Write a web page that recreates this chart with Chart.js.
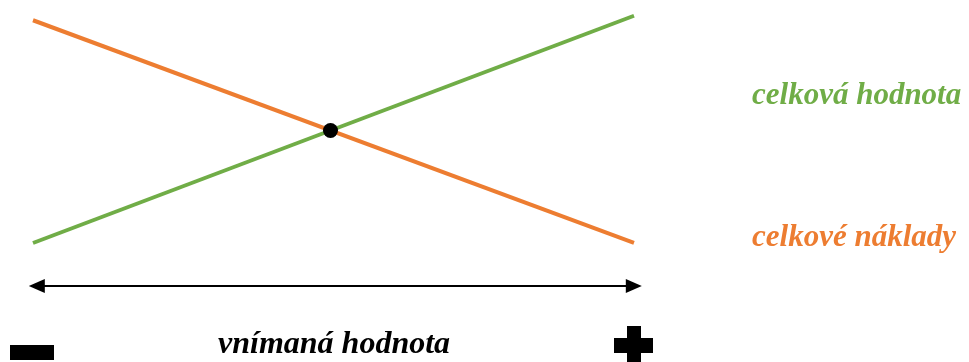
<!DOCTYPE html>
<html lang="cs">
<head>
  <meta charset="UTF-8" />
  <title>Vnímaná hodnota</title>
  <script src="https://cdn.jsdelivr.net/npm/chart.js"></script>
  <style>
    body {
      margin: 0;
      background: #fff;
    }
    #wrap {
      width: 969px;
      height: 362px;
    }
  </style>
</head>
<body>
  <div id="wrap">
    <canvas id="chart" width="969" height="362"></canvas>
  </div>

  <script>
    // data (perceived value on x, amount on y)
    const valueX = [0, 10];
    const totalValue = [0, 10.1];      // celková hodnota
    const totalCosts = [9.9, 0];       // celkové náklady
    const crossPoint = [{ x: 4.95, y: 5.0 }];
    const labels = ['celková hodnota', 'celkové náklady', 'vnímaná hodnota'];

    const green = '#70ad47';
    const orange = '#ed7d31';
    const serif = '"Liberation Serif", "Times New Roman", serif';

    // arrow, signs and labels drawn on top of the chart area
    const extras = {
      id: 'extras',
      afterDatasetsDraw(chart) {
        const ctx = chart.ctx;
        const x = chart.scales.x, y = chart.scales.y;
        const ay = y.getPixelForValue(-1.91);
        const x0 = x.getPixelForValue(-0.07);
        const x1 = x.getPixelForValue(10.13);

        ctx.save();
        ctx.fillStyle = '#000';
        ctx.strokeStyle = '#000';
        ctx.lineWidth = 2;
        ctx.beginPath();
        ctx.moveTo(x0 + 10, ay);
        ctx.lineTo(x1 - 10, ay);
        ctx.stroke();
        // arrow heads
        ctx.beginPath();
        ctx.moveTo(x0, ay);
        ctx.lineTo(x0 + 16, ay - 7);
        ctx.lineTo(x0 + 16, ay + 7);
        ctx.closePath();
        ctx.fill();
        ctx.beginPath();
        ctx.moveTo(x1, ay);
        ctx.lineTo(x1 - 16, ay - 7);
        ctx.lineTo(x1 - 16, ay + 7);
        ctx.closePath();
        ctx.fill();

        // minus and plus
        ctx.fillRect(10, 345, 44, 15);
        ctx.fillRect(614, 338, 39, 15);
        ctx.fillRect(627, 326, 14, 40);

        ctx.textBaseline = 'alphabetic';
        ctx.font = 'bold italic 31px ' + serif;
        ctx.fillStyle = green;
        ctx.fillText(labels[0], 752, 104);
        ctx.fillStyle = orange;
        ctx.fillText(labels[1], 752, 246);
        ctx.font = 'bold italic 32px ' + serif;
        ctx.fillStyle = '#000';
        ctx.fillText(labels[2], 218, 353);
        ctx.restore();
      }
    };

    new Chart(document.getElementById('chart'), {
      type: 'scatter',
      data: {
        datasets: [
          {
            label: 'průsečík',
            data: crossPoint,
            pointRadius: 7.5,
            pointBackgroundColor: '#000',
            pointBorderColor: '#000',
            pointBorderWidth: 0
          },
          {
            label: labels[1],
            data: valueX.map((v, i) => ({ x: v, y: totalCosts[i] })),
            showLine: true,
            borderColor: orange,
            borderWidth: 4,
            pointRadius: 0
          },
          {
            label: labels[0],
            data: valueX.map((v, i) => ({ x: v, y: totalValue[i] })),
            showLine: true,
            borderColor: green,
            borderWidth: 4,
            pointRadius: 0
          }
        ]
      },
      options: {
        responsive: false,
        animation: false,
        layout: { padding: 0, autoPadding: false },
        plugins: {
          legend: { display: false },
          tooltip: { enabled: false }
        },
        scales: {
          x: { type: 'linear', display: false, min: -0.549, max: 15.574 },
          y: { type: 'linear', display: false, min: -5.289, max: 10.8 }
        }
      },
      plugins: [extras]
    });
  </script>
</body>
</html>
